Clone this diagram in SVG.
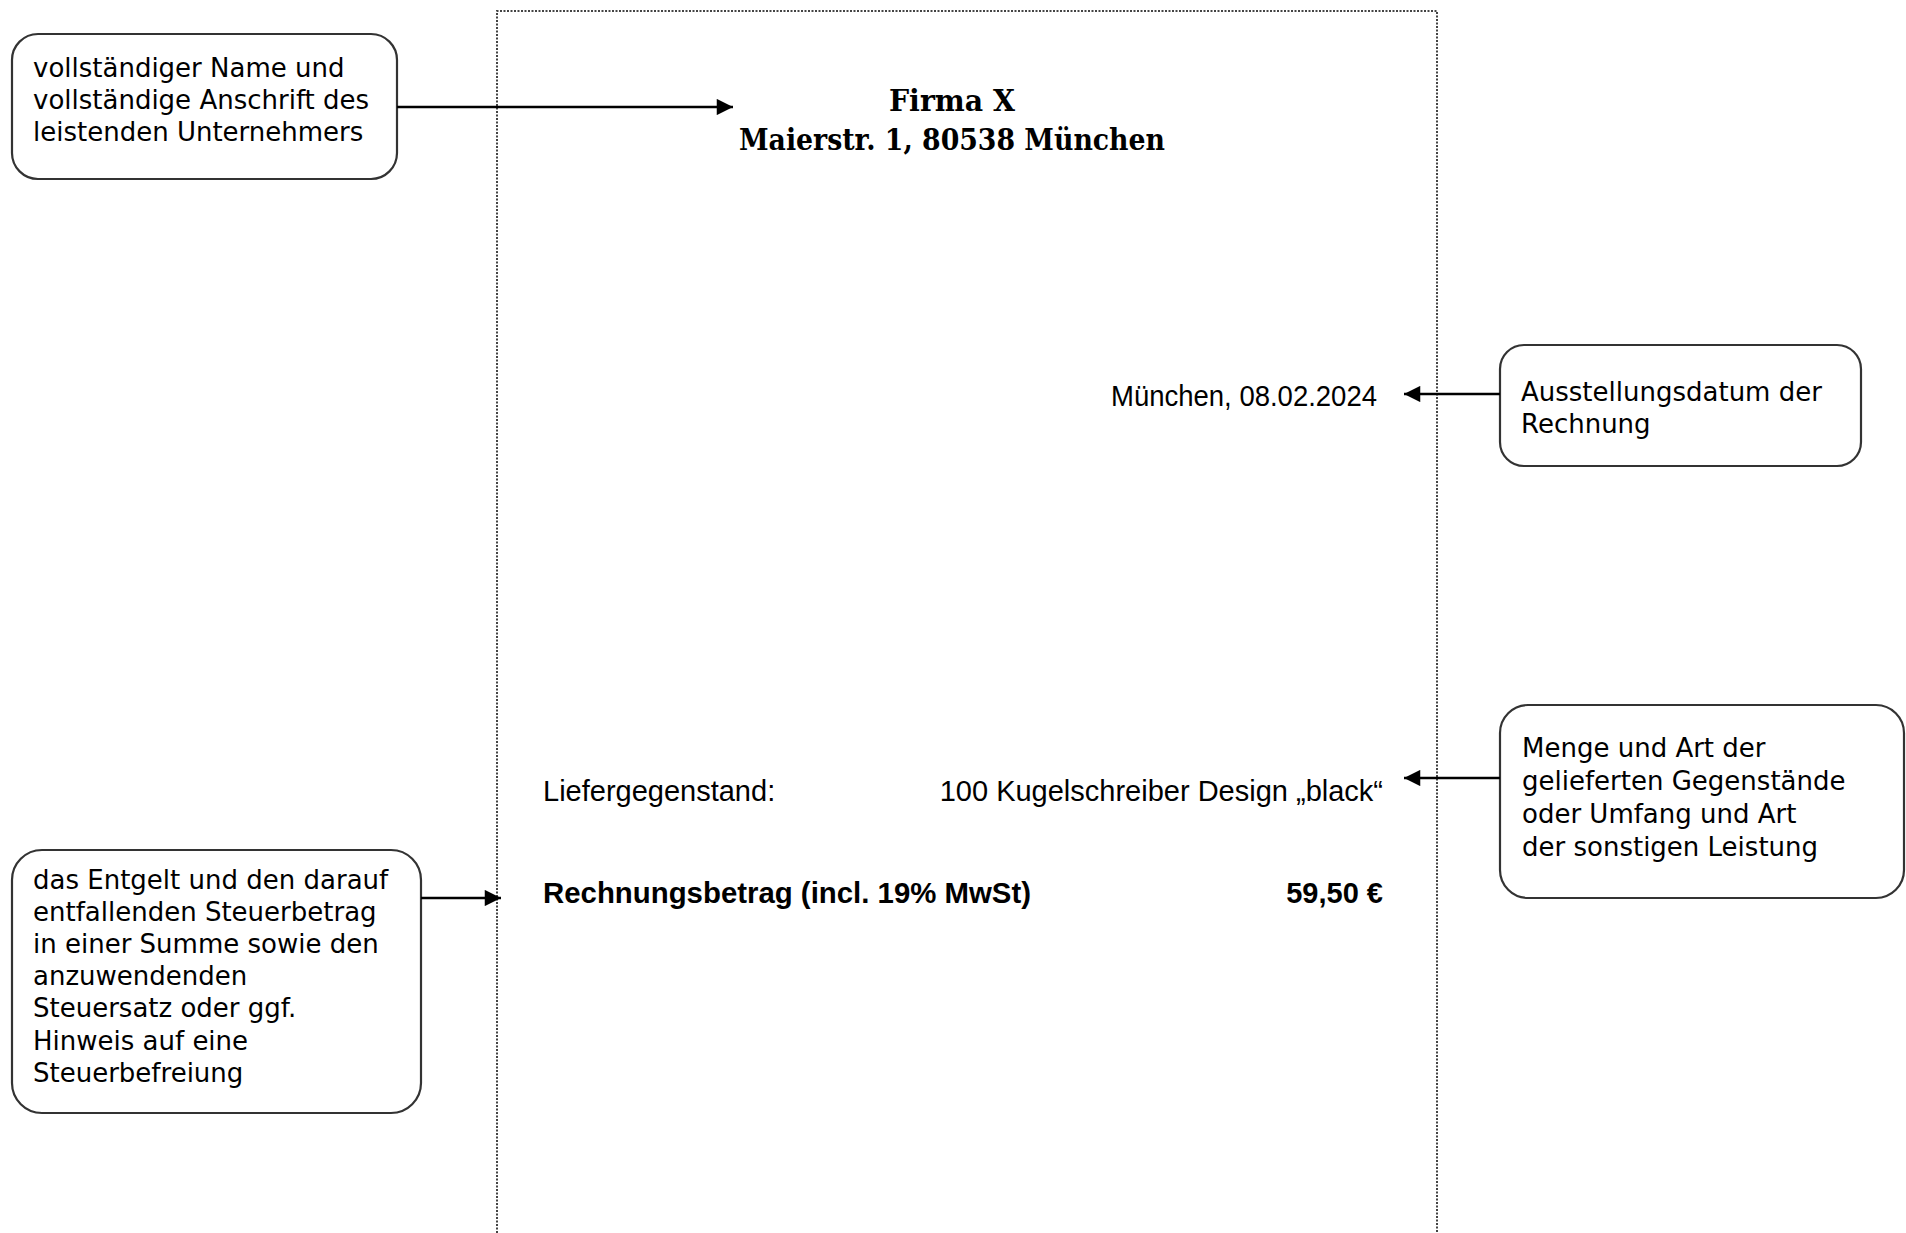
<svg xmlns="http://www.w3.org/2000/svg" width="1906" height="1233" viewBox="0 0 1906 1233">
<style>
.box{fill:#fff;stroke:#333;stroke-width:2.2}
.note{font-family:"DejaVu Sans",Verdana,sans-serif;font-size:26px;fill:#000}
.inv{font-family:"Liberation Sans",Arial,sans-serif;font-size:29px;fill:#000}
.b{font-weight:bold}
.head{font-family:"DejaVu Serif","Liberation Serif",serif;font-weight:bold;font-size:30px;fill:#000}
.conn{stroke:#000;stroke-width:2.5;fill:none}
</style>
<defs>
<marker id="ah" viewBox="0 0 10 10" refX="10" refY="5" markerWidth="8" markerHeight="6.5" markerUnits="strokeWidth" orient="auto">
<path d="M0,0 L10,5 L0,10 z" fill="#000"/>
</marker>
</defs>
<rect width="1906" height="1233" fill="#fff"/>
<g id="page">
<path d="M497,1240 V11 H1437 V1240" fill="none" stroke="#444" stroke-width="2" stroke-dasharray="2,1.5"/>
<text class="head" x="952" y="111" text-anchor="middle" textLength="126" lengthAdjust="spacingAndGlyphs">Firma X</text>
<text class="head" x="952" y="150" text-anchor="middle" textLength="426" lengthAdjust="spacingAndGlyphs">Maierstr. 1, 80538 München</text>
<text class="inv" x="1377" y="406" text-anchor="end" textLength="266" lengthAdjust="spacingAndGlyphs">München, 08.02.2024</text>
<text class="inv" x="543" y="801">Liefergegenstand:</text>
<text class="inv" x="1383" y="801" text-anchor="end">100 Kugelschreiber Design „black“</text>
<text class="inv b" x="543" y="903" textLength="488" lengthAdjust="spacingAndGlyphs">Rechnungsbetrag (incl. 19% MwSt)</text>
<text class="inv b" x="1383" y="903" text-anchor="end">59,50 €</text>
</g>
<g id="note-name">
<rect class="box" x="12" y="34" width="385" height="145" rx="26" ry="26"/>
<text class="note" x="33" y="77">vollständiger Name und</text>
<text class="note" x="33" y="109">vollständige Anschrift des</text>
<text class="note" x="33" y="141">leistenden Unternehmers</text>
</g>
<g id="note-date">
<rect class="box" x="1500" y="345" width="361" height="121" rx="24" ry="24"/>
<text class="note" x="1521" y="401">Ausstellungsdatum der</text>
<text class="note" x="1521" y="433">Rechnung</text>
</g>
<g id="note-goods">
<rect class="box" x="1500" y="705" width="404" height="193" rx="28" ry="28"/>
<text class="note" x="1522" y="757">Menge und Art der</text>
<text class="note" x="1522" y="790">gelieferten Gegenstände</text>
<text class="note" x="1522" y="823">oder Umfang und Art</text>
<text class="note" x="1522" y="856">der sonstigen Leistung</text>
</g>
<g id="note-amount">
<rect class="box" x="12" y="850" width="409" height="263" rx="30" ry="30"/>
<text class="note" x="33" y="889">das Entgelt und den darauf</text>
<text class="note" x="33" y="921">entfallenden Steuerbetrag</text>
<text class="note" x="33" y="953">in einer Summe sowie den</text>
<text class="note" x="33" y="985">anzuwendenden</text>
<text class="note" x="33" y="1017">Steuersatz oder ggf.</text>
<text class="note" x="33" y="1050">Hinweis auf eine</text>
<text class="note" x="33" y="1082">Steuerbefreiung</text>
</g>
<g id="connectors">
<line class="conn" x1="397" y1="107" x2="733" y2="107" marker-end="url(#ah)"/>
<line class="conn" x1="1500" y1="394" x2="1404" y2="394" marker-end="url(#ah)"/>
<line class="conn" x1="1500" y1="778" x2="1404" y2="778" marker-end="url(#ah)"/>
<line class="conn" x1="421" y1="898" x2="501" y2="898" marker-end="url(#ah)"/>
</g>
</svg>
